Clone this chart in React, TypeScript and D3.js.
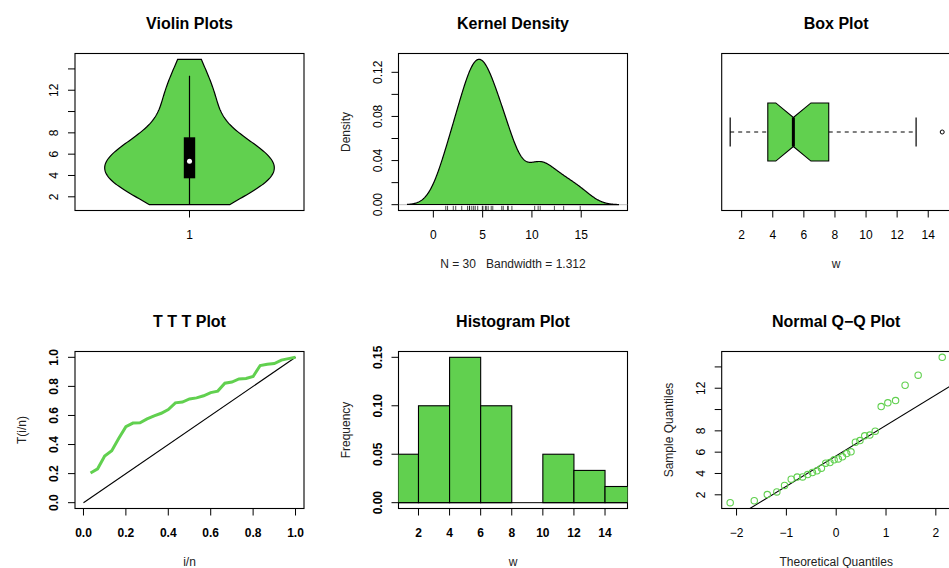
import React from "react";
import * as d3 from "d3";

// sample (sorted)
const w = [1.26, 1.44, 2.02, 2.27, 2.88, 3.47, 3.66, 3.68, 3.9, 4.09, 4.25, 4.5, 4.97, 5.03, 5.28,
  5.37, 5.56, 5.87, 6.03, 6.94, 7.09, 7.53, 7.6, 7.97, 10.28, 10.63, 10.84, 12.28, 13.22, 14.9];
const histBreaks = [0, 2, 4, 6, 8, 10, 12, 14, 16];
const histDensity = [0.05, 0.1, 0.15, 0.1, 0, 0.05, 0.0333, 0.0167];
const bandwidth = 1.312;

const valueTicks = [2, 4, 6, 8, 10, 12, 14];
const valueLabels = ["2", "4", "6", "8", "", "12", ""];
const boxLabels = ["2", "4", "6", "8", "10", "12", "14"];
const densYTicks = [0, 0.02, 0.04, 0.06, 0.08, 0.1, 0.12];
const densYLabels = ["0.00", "", "0.04", "", "0.08", "", "0.12"];
const densXTicks = [0, 5, 10, 15];
const tttTicks = [0, 0.2, 0.4, 0.6, 0.8, 1];
const tttLabels = ["0.0", "0.2", "0.4", "0.6", "0.8", "1.0"];
const histYTicks = [0, 0.05, 0.1, 0.15];
const histYLabels = ["0.00", "0.05", "0.10", "0.15"];
const qqXTicks = [-2, -1, 0, 1, 2];
const qqXLabels = ["\u22122", "\u22121", "0", "1", "2"];

const FONT = "'Liberation Sans', Arial, Helvetica, sans-serif";
const GREEN = "#61D04F";
const COLS = [75, 398.5, 721.7];
const ROWS = [53.5, 351.5];
const PW = 229;
const PH = 157;

const pad = (lo: number, hi: number) => {
  const r = (hi - lo) * 0.04;
  return [lo - r, hi + r];
};

const kde = (xs: number[], h: number, t: number) =>
  (d3.mean(xs, (x) => Math.exp(-0.5 * ((t - x) / h) ** 2)) as number) / (h * Math.sqrt(2 * Math.PI));

// inverse normal cdf (Acklam)
function qnorm(p: number) {
  const a = [-39.69683028665376, 220.9460984245205, -275.9285104469687, 138.357751867269, -30.66479806614716, 2.506628277459239];
  const b = [-54.47609879822406, 161.5858368580409, -155.6989798598866, 66.80131188771972, -13.28068155288572];
  const c = [-0.007784894002430293, -0.3223964580411365, -2.400758277161838, -2.549732539343734, 4.374664141464968, 2.938163982698783];
  const d = [0.007784695709041462, 0.3224671290700398, 2.445134137142996, 3.754408661907416];
  const tail = (q: number) =>
    (((((c[0] * q + c[1]) * q + c[2]) * q + c[3]) * q + c[4]) * q + c[5]) /
    ((((d[0] * q + d[1]) * q + d[2]) * q + d[3]) * q + 1);
  if (p < 0.02425) return tail(Math.sqrt(-2 * Math.log(p)));
  if (p > 1 - 0.02425) return -tail(Math.sqrt(-2 * Math.log(1 - p)));
  const q = p - 0.5, r = q * q;
  return ((((((a[0] * r + a[1]) * r + a[2]) * r + a[3]) * r + a[4]) * r + a[5]) * q) /
    (((((b[0] * r + b[1]) * r + b[2]) * r + b[3]) * r + b[4]) * r + 1);
}

type Sc = (v: number) => number;

function Frame({ x, y, title, id }: { x: number; y: number; title: string; id: string }) {
  return (
    <g>
      <clipPath id={id}>
        <rect x={x} y={y} width={PW} height={PH} />
      </clipPath>
      <rect x={x} y={y} width={PW} height={PH} fill="none" stroke="#000" strokeWidth={1.1} />
      <text x={x + PW / 2} y={y - 24.5} textAnchor="middle" fontWeight="bold" fontSize={16} fill="#000">
        {title}
      </text>
    </g>
  );
}

function XAxis({ sx, ticks, labels, bottom, bold, lab }: { sx: Sc; ticks: number[]; labels: string[]; bottom: number; bold?: boolean; lab?: string }) {
  const r = sx.range ? (sx as any).range() : [0, 0];
  return (
    <g>
      {ticks.map((t, i) => (
        <g key={i}>
          <line x1={sx(t)} x2={sx(t)} y1={bottom} y2={bottom + 7} stroke="#000" />
          {labels[i] && (
            <text x={sx(t)} y={bottom + 28} textAnchor="middle" fontWeight={bold ? "bold" : "normal"}>
              {labels[i]}
            </text>
          )}
        </g>
      ))}
      {lab && (
        <text x={(r[0] + r[1]) / 2} y={bottom + 57} textAnchor="middle" fill="#222">
          {lab}
        </text>
      )}
    </g>
  );
}

function YAxis({ sy, ticks, labels, left, bold, lab }: { sy: Sc; ticks: number[]; labels: string[]; left: number; bold?: boolean; lab?: string }) {
  const r = (sy as any).range();
  return (
    <g>
      {ticks.map((t, i) => (
        <g key={i}>
          <line x1={left - 7} x2={left} y1={sy(t)} y2={sy(t)} stroke="#000" />
          {labels[i] && (
            <text transform={`translate(${left - 17},${sy(t)}) rotate(-90)`} textAnchor="middle" fontWeight={bold ? "bold" : "normal"}>
              {labels[i]}
            </text>
          )}
        </g>
      ))}
      {lab && (
        <text transform={`translate(${left - 49},${(r[0] + r[1]) / 2}) rotate(-90)`} textAnchor="middle" fill="#222">
          {lab}
        </text>
      )}
    </g>
  );
}

export default function App() {
  const n = w.length;
  const valDomain = pad(d3.min(w) as number, d3.max(w) as number);
  const q1 = d3.quantile(w, 0.25) as number;
  const q3 = d3.quantile(w, 0.75) as number;
  const med = d3.median(w) as number;

  // ---- Violin ----
  const [vx, vy] = [COLS[0], ROWS[0]];
  const vxS = d3.scaleLinear().domain(pad(0.5, 1.5)).range([vx, vx + PW]);
  const vyS = d3.scaleLinear().domain(valDomain).range([vy + PH, vy]);
  const hViolin = (d3.deviation(w) as number) * Math.pow(4 / (3 * n), 0.2);
  const vGrid = d3.range(120).map((i) => w[0] + (i * (w[n - 1] - w[0])) / 119);
  const vDens = vGrid.map((t) => ({ t, d: kde(w, hViolin, t) }));
  const vMax = d3.max(vDens, (d) => d.d) as number;
  const violinArea = d3
    .area<{ t: number; d: number }>()
    .y((d) => vyS(d.t))
    .x0((d) => vxS(1 - (0.4 * d.d) / vMax))
    .x1((d) => vxS(1 + (0.4 * d.d) / vMax));
  const iqr = q3 - q1;
  const vUpper = Math.min(q3 + 1.5 * iqr, w[n - 1]);
  const vLower = Math.max(q1 - 1.5 * iqr, w[0]);

  // ---- Kernel density ----
  const [kx, ky] = [COLS[1], ROWS[0]];
  const kLo = w[0] - 3 * bandwidth;
  const kHi = w[n - 1] + 3 * bandwidth;
  const kPts = d3.range(512).map((i) => {
    const t = kLo + (i * (kHi - kLo)) / 511;
    return { t, d: kde(w, bandwidth, t) };
  });
  const kMax = d3.max(kPts, (d) => d.d) as number;
  const kxS = d3.scaleLinear().domain(pad(kLo, kHi)).range([kx, kx + PW]);
  const kyS = d3.scaleLinear().domain(pad(0, kMax)).range([ky + PH, ky]);
  const densLine = d3
    .line<{ t: number; d: number }>()
    .x((d) => kxS(d.t))
    .y((d) => kyS(d.d));

  // ---- Box plot ----
  const [bx, by] = [COLS[2], ROWS[0]];
  const bxS = d3.scaleLinear().domain(valDomain).range([bx, bx + PW]);
  const byS = d3.scaleLinear().domain(pad(0.5, 1.5)).range([by + PH, by]);
  const n4 = Math.floor((n + 3) / 2) / 2;
  const hinge = (k: number) => 0.5 * (w[Math.floor(k) - 1] + w[Math.ceil(k) - 1]);
  const lh = hinge(n4);
  const uh = hinge(n + 1 - n4);
  const hspread = uh - lh;
  const nLo = med - (1.58 * hspread) / Math.sqrt(n);
  const nHi = med + (1.58 * hspread) / Math.sqrt(n);
  const wLo = d3.min(w.filter((v) => v >= lh - 1.5 * hspread)) as number;
  const wHi = d3.max(w.filter((v) => v <= uh + 1.5 * hspread)) as number;
  const outliers = w.filter((v) => v < wLo || v > wHi);
  const bTop = byS(1.2), bBot = byS(0.8), nTop = byS(1.1), nBot = byS(0.9);
  const notchPath = [
    [lh, bTop], [nLo, bTop], [med, nTop], [nHi, bTop], [uh, bTop],
    [uh, bBot], [nHi, bBot], [med, nBot], [nLo, bBot], [lh, bBot],
  ].map(([v, y], i) => `${i ? "L" : "M"}${bxS(v)},${y}`).join("") + "Z";

  // ---- TTT ----
  const [tx, ty] = [COLS[0], ROWS[1]];
  const txS = d3.scaleLinear().domain(pad(0, 1)).range([tx, tx + PW]);
  const tyS = d3.scaleLinear().domain(pad(0, 1)).range([ty + PH, ty]);
  const total = d3.sum(w);
  const cum = d3.cumsum(w);
  const ttt = w.map((v, i) => [(i + 1) / n, (cum[i] + (n - i - 1) * v) / total]);

  // ---- Histogram ----
  const [hx, hy] = [COLS[1], ROWS[1]];
  const hxS = d3.scaleLinear().domain(valDomain).range([hx, hx + PW]);
  const hyS = d3.scaleLinear().domain(pad(0, d3.max(histDensity) as number)).range([hy + PH, hy]);

  // ---- Q-Q ----
  const [qx, qy] = [COLS[2], ROWS[1]];
  const theo = w.map((_, i) => qnorm((i + 0.5) / n));
  const qxS = d3.scaleLinear().domain(pad(theo[0], theo[n - 1])).range([qx, qx + PW]);
  const qyS = d3.scaleLinear().domain(valDomain).range([qy + PH, qy]);
  const slope = (q3 - q1) / (qnorm(0.75) - qnorm(0.25));
  const icpt = q1 - slope * qnorm(0.25);
  const qd = qxS.domain();

  return (
    <svg
      width={949}
      height={568}
      style={{ position: "absolute", left: 0, top: 0, background: "#fff" }}
      fontFamily={FONT}
      fontSize={12}
    >
      <rect width={949} height={568} fill="#fff" />

      {/* Violin */}
      <Frame x={vx} y={vy} title="Violin Plots" id="c1" />
      <g clipPath="url(#c1)">
        <path d={violinArea(vDens) as string} fill={GREEN} stroke="#000" strokeWidth={1.2} />
        <line x1={vxS(1)} x2={vxS(1)} y1={vyS(vLower)} y2={vyS(vUpper)} stroke="#000" strokeWidth={1.2} />
        <rect x={vxS(1) - 5.7} width={11.4} y={vyS(q3)} height={vyS(q1) - vyS(q3)} fill="#000" />
        <circle cx={vxS(1)} cy={vyS(med)} r={2.5} fill="#fff" />
      </g>
      <YAxis sy={vyS} ticks={valueTicks} labels={valueLabels} left={vx} />
      <XAxis sx={vxS} ticks={[1]} labels={["1"]} bottom={vy + PH} />

      {/* Kernel density */}
      <Frame x={kx} y={ky} title="Kernel Density" id="c2" />
      <g clipPath="url(#c2)">
        <line x1={kx} x2={kx + PW} y1={kyS(0)} y2={kyS(0)} stroke="#bebebe" />
        <path d={(densLine(kPts) as string) + "Z"} fill={GREEN} stroke="#000" strokeWidth={1.2} />
        {w.map((v, i) => (
          <line key={i} x1={kxS(v)} x2={kxS(v)} y1={ky + PH} y2={ky + PH - 0.03 * PH} stroke="#000" strokeWidth={0.7} />
        ))}
      </g>
      <YAxis sy={kyS} ticks={densYTicks} labels={densYLabels} left={kx} lab="Density" />
      <XAxis sx={kxS} ticks={densXTicks} labels={densXTicks.map(String)} bottom={ky + PH} />
      <text x={kx + PW / 2} y={ky + PH + 57} textAnchor="middle" fill="#222" style={{ whiteSpace: "pre" }}>
        {`N = ${n}   Bandwidth = ${bandwidth}`}
      </text>

      {/* Box plot */}
      <Frame x={bx} y={by} title="Box Plot" id="c3" />
      <g clipPath="url(#c3)">
        <line x1={bxS(wLo)} x2={bxS(lh)} y1={byS(1)} y2={byS(1)} stroke="#000" strokeDasharray="4,4" />
        <line x1={bxS(uh)} x2={bxS(wHi)} y1={byS(1)} y2={byS(1)} stroke="#000" strokeDasharray="4,4" />
        {[wLo, wHi].map((v, i) => (
          <line key={i} x1={bxS(v)} x2={bxS(v)} y1={byS(1.1)} y2={byS(0.9)} stroke="#000" strokeWidth={1.2} />
        ))}
        <path d={notchPath} fill={GREEN} stroke="#000" strokeWidth={1.1} />
        <line x1={bxS(med)} x2={bxS(med)} y1={nTop} y2={nBot} stroke="#000" strokeWidth={3} />
        {outliers.map((v, i) => (
          <circle key={i} cx={bxS(v)} cy={byS(1)} r={2} fill="none" stroke="#000" />
        ))}
      </g>
      <XAxis sx={bxS} ticks={valueTicks} labels={boxLabels} bottom={by + PH} lab="w" />

      {/* TTT */}
      <Frame x={tx} y={ty} title="T T T Plot" id="c4" />
      <g clipPath="url(#c4)">
        <line x1={txS(0)} y1={tyS(0)} x2={txS(1)} y2={tyS(1)} stroke="#000" strokeWidth={1.1} />
        <path
          d={d3.line().x((d) => txS(d[0])).y((d) => tyS(d[1]))(ttt as [number, number][]) as string}
          fill="none"
          stroke={GREEN}
          strokeWidth={3}
        />
      </g>
      <YAxis sy={tyS} ticks={tttTicks} labels={tttLabels} left={tx} bold lab="T(i/n)" />
      <XAxis sx={txS} ticks={tttTicks} labels={tttLabels} bottom={ty + PH} bold lab="i/n" />

      {/* Histogram */}
      <Frame x={hx} y={hy} title="Histogram Plot" id="c5" />
      <g clipPath="url(#c5)">
        {histDensity.map((d, i) => (
          <rect
            key={i}
            x={hxS(histBreaks[i])}
            width={hxS(histBreaks[i + 1]) - hxS(histBreaks[i])}
            y={hyS(d)}
            height={hyS(0) - hyS(d)}
            fill={GREEN}
            stroke="#000"
            strokeWidth={1.1}
          />
        ))}
        <line x1={hx} x2={hx + PW} y1={hyS(0)} y2={hyS(0)} stroke="#000" />
      </g>
      <YAxis sy={hyS} ticks={histYTicks} labels={histYLabels} left={hx} bold lab="Frequency" />
      <XAxis sx={hxS} ticks={valueTicks} labels={boxLabels} bottom={hy + PH} bold lab="w" />

      {/* Normal Q-Q */}
      <Frame x={qx} y={qy} title={"Normal Q\u2212Q Plot"} id="c6" />
      <g clipPath="url(#c6)">
        <line x1={qxS(qd[0])} x2={qxS(qd[1])} y1={qyS(icpt + slope * qd[0])} y2={qyS(icpt + slope * qd[1])} stroke="#000" strokeWidth={1.1} />
        {w.map((v, i) => (
          <circle key={i} cx={qxS(theo[i])} cy={qyS(v)} r={3.2} fill="none" stroke={GREEN} strokeWidth={1.1} />
        ))}
      </g>
      <YAxis sy={qyS} ticks={valueTicks} labels={valueLabels} left={qx} lab="Sample Quantiles" />
      <XAxis sx={qxS} ticks={qqXTicks} labels={qqXLabels} bottom={qy + PH} lab="Theoretical Quantiles" />
    </svg>
  );
}
